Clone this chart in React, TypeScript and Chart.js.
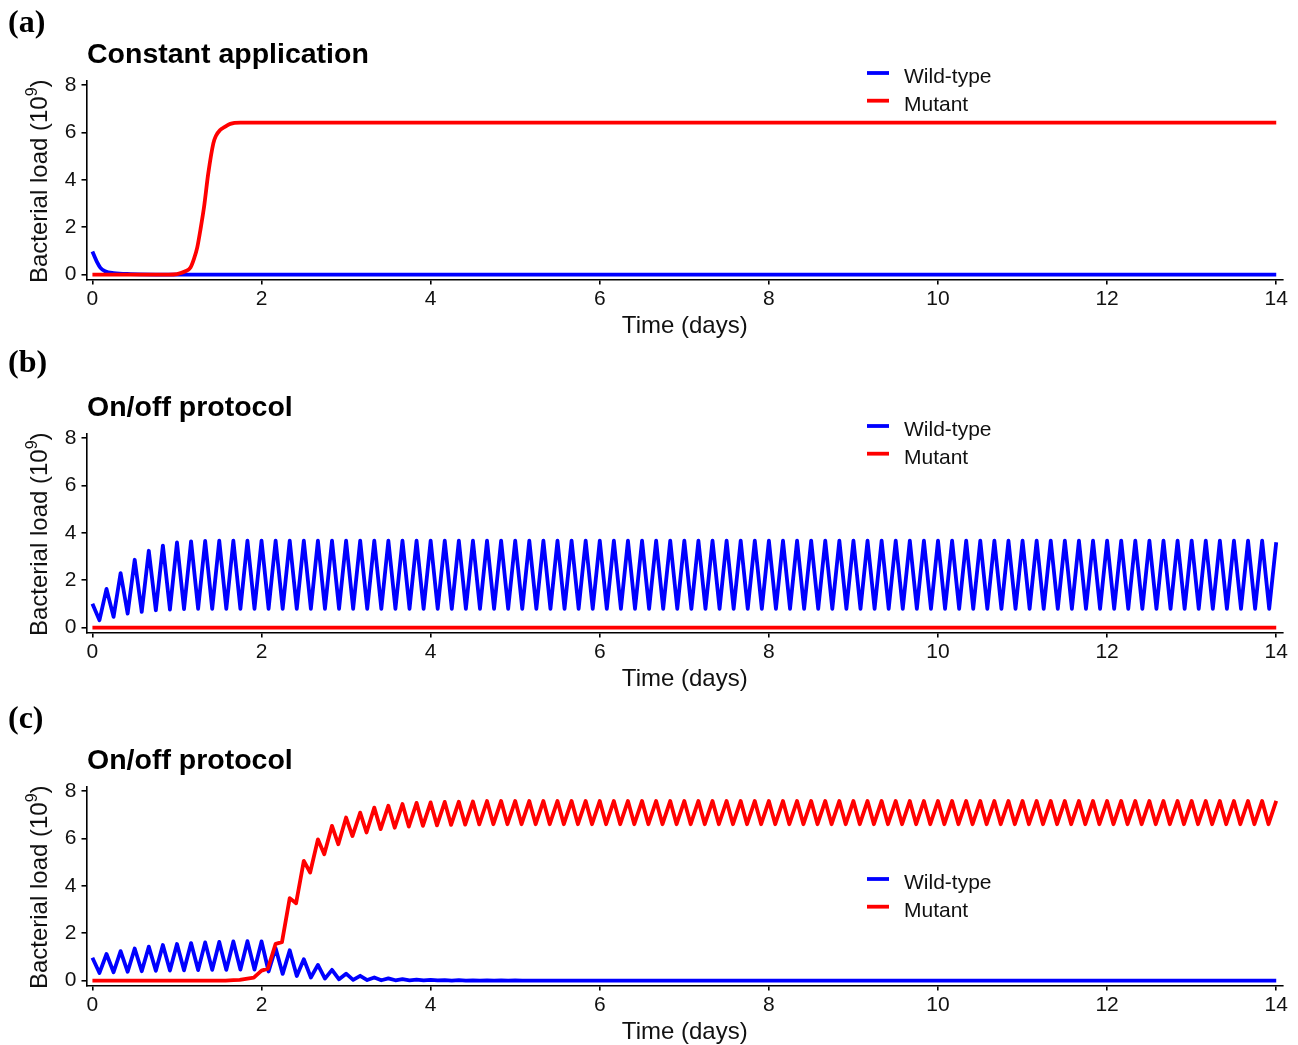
import React, { useEffect, useRef } from "react";
import { Chart, registerables } from "chart.js";

Chart.register(...registerables);

// ---------------- data ----------------
const CYCLE_DAYS = 1 / 6; // one on/off cycle = 4 h
const MUTANT_TROUGH_LAG = 0.075; // days after each mutant peak

const xTicks = [0, 2, 4, 6, 8, 10, 12, 14];
const yTicks = [0, 2, 4, 6, 8];

// Panel (a) constant application
const aWildTime = [0, 0.03, 0.055, 0.095, 0.15, 0.25, 0.45, 1.0, 14];
const aWildLoad = [0.97, 0.72, 0.52, 0.28, 0.14, 0.06, 0.02, 0.0, 0.0];
const aMutTime = [0, 0.9, 1.0, 1.1, 1.16, 1.2, 1.24, 1.28, 1.32, 1.37, 1.43, 1.46, 1.51, 1.56, 1.63, 1.75, 14];
const aMutLoad = [0, 0, 0.02, 0.14, 0.3, 0.65, 1.15, 1.95, 2.85, 4.27, 5.54, 5.85, 6.1, 6.22, 6.36, 6.41, 6.41];

// Panel (b) on/off, no mutant growth
const bWildStart = 1.0;
const bWildTrough = [
  0.31, 0.45, 0.59, 0.66, 0.73, 0.76, 0.78, 0.79, 0.79, 0.79, 0.79, 0.79,
  0.79, 0.79, 0.79, 0.79, 0.79, 0.79, 0.79, 0.79, 0.79, 0.79, 0.79, 0.79,
  0.79, 0.79, 0.79, 0.79, 0.79, 0.79, 0.79, 0.79, 0.79, 0.79, 0.79, 0.79,
  0.79, 0.79, 0.79, 0.79, 0.79, 0.79, 0.79, 0.79, 0.79, 0.79, 0.79, 0.79,
  0.79, 0.79, 0.79, 0.79, 0.79, 0.79, 0.79, 0.79, 0.79, 0.79, 0.79, 0.79,
  0.79, 0.79, 0.79, 0.79, 0.79, 0.79, 0.79, 0.79, 0.79, 0.79, 0.79, 0.79,
  0.79, 0.79, 0.79, 0.79, 0.79, 0.79, 0.79, 0.79, 0.79, 0.79, 0.79, 0.79,
];
const bWildPeak = [
  1.63, 2.30, 2.86, 3.24, 3.46, 3.59, 3.64, 3.66, 3.67, 3.67, 3.67, 3.67,
  3.67, 3.67, 3.67, 3.67, 3.67, 3.67, 3.67, 3.67, 3.67, 3.67, 3.67, 3.67,
  3.67, 3.67, 3.67, 3.67, 3.67, 3.67, 3.67, 3.67, 3.67, 3.67, 3.67, 3.67,
  3.67, 3.67, 3.67, 3.67, 3.67, 3.67, 3.67, 3.67, 3.67, 3.67, 3.67, 3.67,
  3.67, 3.67, 3.67, 3.67, 3.67, 3.67, 3.67, 3.67, 3.67, 3.67, 3.67, 3.67,
  3.67, 3.67, 3.67, 3.67, 3.67, 3.67, 3.67, 3.67, 3.67, 3.67, 3.67, 3.67,
  3.67, 3.67, 3.67, 3.67, 3.67, 3.67, 3.67, 3.67, 3.67, 3.67, 3.67, 3.60,
];
const bMutTime = [0, 14];
const bMutLoad = [0, 0];

// Panel (c) on/off, mutant takes over
const cWildStart = 0.96;
const cWildTrough = [
  0.32, 0.35, 0.37, 0.39, 0.41, 0.42, 0.43, 0.44, 0.45, 0.45, 0.46, 0.46,
  0.38, 0.28, 0.19, 0.13, 0.08, 0.05, 0.03, 0.02, 0.01, 0.01, 0.01, 0.01,
  0.01, 0, 0, 0, 0, 0, 0, 0, 0, 0, 0, 0,
  0, 0, 0, 0, 0, 0, 0, 0, 0, 0, 0, 0,
  0, 0, 0, 0, 0, 0, 0, 0, 0, 0, 0, 0,
  0, 0, 0, 0, 0, 0, 0, 0, 0, 0, 0, 0,
  0, 0, 0, 0, 0, 0, 0, 0, 0, 0, 0, 0,
];
const cWildPeak = [
  1.12, 1.24, 1.35, 1.43, 1.50, 1.54, 1.58, 1.61, 1.63, 1.65, 1.66, 1.65,
  1.36, 1.28, 0.90, 0.66, 0.45, 0.29, 0.20, 0.13, 0.09, 0.06, 0.04, 0.03,
  0.02, 0.02, 0.01, 0.01, 0.01, 0.01, 0, 0, 0, 0, 0, 0,
  0, 0, 0, 0, 0, 0, 0, 0, 0, 0, 0, 0,
  0, 0, 0, 0, 0, 0, 0, 0, 0, 0, 0, 0,
  0, 0, 0, 0, 0, 0, 0, 0, 0, 0, 0, 0,
  0, 0, 0, 0, 0, 0, 0, 0, 0, 0, 0, 0,
];
const cMutPeak = [
  0, 0, 0, 0, 0, 0, 0, 0, 0, 0, 0.02, 0.08,
  0.42, 1.55, 3.48, 5.05, 5.96, 6.53, 6.88, 7.09, 7.30, 7.38, 7.45, 7.50,
  7.52, 7.54, 7.55, 7.56, 7.58, 7.58, 7.58, 7.58, 7.58, 7.58, 7.58, 7.58,
  7.58, 7.58, 7.58, 7.58, 7.58, 7.58, 7.58, 7.58, 7.58, 7.58, 7.58, 7.58,
  7.58, 7.58, 7.58, 7.58, 7.58, 7.58, 7.58, 7.58, 7.58, 7.58, 7.58, 7.58,
  7.58, 7.58, 7.58, 7.58, 7.58, 7.58, 7.58, 7.58, 7.58, 7.58, 7.58, 7.58,
  7.58, 7.58, 7.58, 7.58, 7.58, 7.58, 7.58, 7.58, 7.58, 7.58, 7.58, 7.58,
  7.58,
];
const cMutTrough = [
  0, 0, 0, 0, 0, 0, 0, 0, 0, 0, 0.03, 0.12,
  0.50, 1.62, 3.26, 4.56, 5.33, 5.75, 6.10, 6.25, 6.39, 6.45, 6.50, 6.53,
  6.55, 6.57, 6.58, 6.59, 6.60, 6.60, 6.60, 6.60, 6.60, 6.60, 6.60, 6.60,
  6.60, 6.60, 6.60, 6.60, 6.60, 6.60, 6.60, 6.60, 6.60, 6.60, 6.60, 6.60,
  6.60, 6.60, 6.60, 6.60, 6.60, 6.60, 6.60, 6.60, 6.60, 6.60, 6.60, 6.60,
  6.60, 6.60, 6.60, 6.60, 6.60, 6.60, 6.60, 6.60, 6.60, 6.60, 6.60, 6.60,
  6.60, 6.60, 6.60, 6.60, 6.60, 6.60, 6.60, 6.60, 6.60, 6.60, 6.60, 6.60,
];

// ---------------- helpers ----------------
type Pt = { x: number; y: number };

function pairSeries(times: number[], loads: number[]): Pt[] {
  return times.map((t, i) => ({ x: t, y: loads[i] }));
}
function wildSeries(start: number, troughs: number[], peaks: number[]): Pt[] {
  const pts: Pt[] = [{ x: 0, y: start }];
  peaks.forEach((p, i) => {
    pts.push({ x: i * CYCLE_DAYS + CYCLE_DAYS / 2, y: troughs[i] });
    pts.push({ x: (i + 1) * CYCLE_DAYS, y: p });
  });
  return pts;
}
function mutantSeries(peaks: number[], troughs: number[]): Pt[] {
  const pts: Pt[] = [];
  peaks.forEach((p, k) => {
    pts.push({ x: k * CYCLE_DAYS, y: p });
    if (k < troughs.length) pts.push({ x: k * CYCLE_DAYS + MUTANT_TROUGH_LAG, y: troughs[k] });
  });
  return pts;
}

const FONT = '"Liberation Sans", Arial, Helvetica, sans-serif';
const SERIF = '"Liberation Serif", "Times New Roman", serif';
const BLUE = "#0000ff";
const RED = "#ff0000";
const TEXT = "#111";

interface PanelSpec {
  label: string;
  labelTop: number;
  title: string;
  top: number;
  height: number;
  legendY: number;
  smooth: boolean;
  wild: Pt[];
  mutant: Pt[];
}

const PANELS: PanelSpec[] = [
  {
    label: "(a)", labelTop: 5, title: "Constant application", top: 0, height: 353, legendY: 73, smooth: true,
    wild: pairSeries(aWildTime, aWildLoad), mutant: pairSeries(aMutTime, aMutLoad),
  },
  {
    label: "(b)", labelTop: 345, title: "On/off protocol", top: 353, height: 353, legendY: 73, smooth: false,
    wild: wildSeries(bWildStart, bWildTrough, bWildPeak), mutant: pairSeries(bMutTime, bMutLoad),
  },
  {
    label: "(c)", labelTop: 701, title: "On/off protocol", top: 706, height: 339, legendY: 173, smooth: false,
    wild: wildSeries(cWildStart, cWildTrough, cWildPeak), mutant: mutantSeries(cMutPeak, cMutTrough),
  },
];

const CHART_TOP = 81;
const CHART_BOTTOM = 279.5;
const CHART_LEFT = 86.5;
const CHART_RIGHT = 1283;

function PanelChart({ spec }: { spec: PanelSpec }) {
  const ref = useRef<HTMLCanvasElement>(null);
  useEffect(() => {
    const canvas = ref.current!;
    const H = spec.height;
    const overlay = {
      id: "overlay",
      afterDraw(chart: any) {
        const { ctx, chartArea } = chart;
        ctx.save();
        ctx.fillStyle = "#000";
        ctx.textBaseline = "alphabetic";
        // title
        ctx.textAlign = "left";
        ctx.font = `bold 28.5px ${FONT}`;
        ctx.fillText(spec.title, 87, 63);
        // x title
        ctx.textAlign = "center";
        ctx.font = `24px ${FONT}`;
        ctx.fillStyle = TEXT;
        ctx.fillText("Time (days)", (chartArea.left + chartArea.right) / 2, 333);
        // y title with superscript
        ctx.save();
        ctx.translate(47, (chartArea.top + chartArea.bottom) / 2 + 1);
        ctx.rotate(-Math.PI / 2);
        ctx.textAlign = "left";
        const main = "Bacterial load (10";
        const sup = "9";
        const close = ")";
        ctx.font = `24px ${FONT}`;
        const w1 = ctx.measureText(main).width;
        const w3 = ctx.measureText(close).width;
        ctx.font = `16px ${FONT}`;
        const w2 = ctx.measureText(sup).width;
        const total = w1 + w2 + w3;
        const x0 = -total / 2;
        ctx.font = `24px ${FONT}`;
        ctx.fillText(main, x0, 0);
        ctx.font = `16px ${FONT}`;
        ctx.fillText(sup, x0 + w1, -10);
        ctx.font = `24px ${FONT}`;
        ctx.fillText(close, x0 + w1 + w2, 0);
        ctx.restore();
        // legend
        const rows = [
          { name: "Wild-type", color: BLUE },
          { name: "Mutant", color: RED },
        ];
        rows.forEach((r, i) => {
          const y = spec.legendY + i * 27.7;
          ctx.strokeStyle = r.color;
          ctx.lineWidth = 3.8;
          ctx.lineCap = "butt";
          ctx.beginPath();
          ctx.moveTo(867, y);
          ctx.lineTo(889, y);
          ctx.stroke();
          ctx.fillStyle = TEXT;
          ctx.textAlign = "left";
          ctx.font = `21px ${FONT}`;
          ctx.fillText(r.name, 904, y + 9.8);
        });
        ctx.restore();
      },
    };
    const lineStyle: any = {
      borderWidth: 3.8,
      pointRadius: 0,
      tension: 0,
      borderJoinStyle: "round",
      borderCapStyle: "butt",
      fill: false,
    };
    if (spec.smooth) lineStyle.cubicInterpolationMode = "monotone";
    const chart = new Chart(canvas, {
      type: "line",
      data: {
        datasets: [
          { label: "Mutant", data: spec.mutant, borderColor: RED, ...lineStyle },
          { label: "Wild-type", data: spec.wild, borderColor: BLUE, ...lineStyle },
        ],
      },
      options: {
        animation: false,
        responsive: false,
        devicePixelRatio: 1,
        layout: { padding: { top: CHART_TOP, right: 1298 - CHART_RIGHT, left: 0, bottom: 0 } },
        plugins: { legend: { display: false }, tooltip: { enabled: false }, title: { display: false } },
        scales: {
          x: {
            type: "linear",
            min: -0.07,
            max: 14.08,
            afterFit: (s: any) => { s.height = H - CHART_BOTTOM; },
            afterBuildTicks: (s: any) => { s.ticks = xTicks.map((v) => ({ value: v })); },
            ticks: { font: { family: FONT, size: 21 }, color: TEXT, padding: 2, maxRotation: 0, autoSkip: false },
            grid: { drawOnChartArea: false, drawTicks: true, tickLength: 5, color: "#000", lineWidth: 1.6 },
            border: { display: true, color: "#000", width: 1.6 },
          },
          y: {
            type: "linear",
            min: -0.21,
            max: 8.17,
            afterFit: (s: any) => { s.width = CHART_LEFT; },
            afterBuildTicks: (s: any) => { s.ticks = yTicks.map((v) => ({ value: v })); },
            ticks: { font: { family: FONT, size: 21 }, color: TEXT, padding: 5, autoSkip: false },
            grid: { drawOnChartArea: false, drawTicks: true, tickLength: 5, color: "#000", lineWidth: 1.6 },
            border: { display: true, color: "#000", width: 1.6 },
          },
        },
      },
      plugins: [overlay],
    } as any);
    return () => chart.destroy();
  }, [spec]);
  return (
    <canvas
      ref={ref}
      width={1298}
      height={spec.height}
      style={{ position: "absolute", left: 0, top: spec.top, width: 1298, height: spec.height }}
    />
  );
}

export default function App() {
  return (
    <div style={{ position: "absolute", left: 0, top: 0, width: 1298, height: 1045, background: "#fff", overflow: "hidden" }}>
      {PANELS.map((p) => (
        <PanelChart key={p.label} spec={p} />
      ))}
      {PANELS.map((p) => (
        <div
          key={"lbl" + p.label}
          style={{
            position: "absolute",
            left: 8,
            top: p.labelTop,
            font: `bold 32px/32px ${SERIF}`,
            color: "#000",
            whiteSpace: "nowrap",
          }}
        >
          {p.label}
        </div>
      ))}
    </div>
  );
}
